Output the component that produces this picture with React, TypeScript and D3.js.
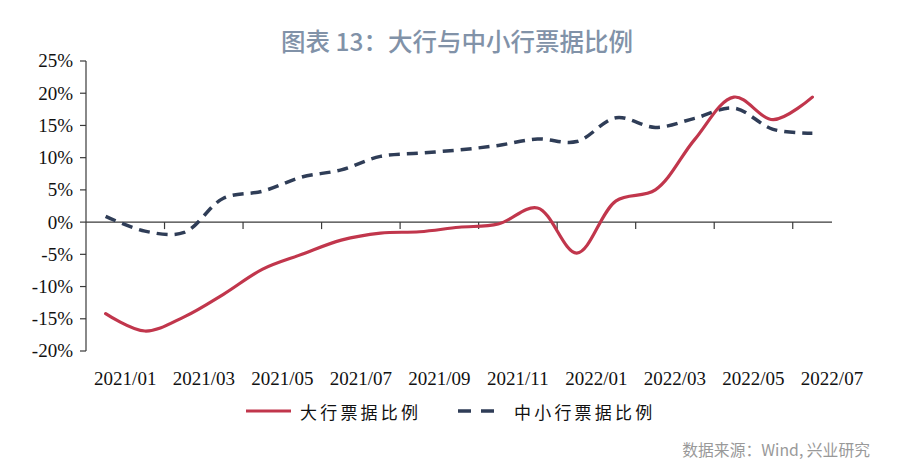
import React from "react";
import * as d3 from "d3";

const months = [
  "2021/01", "2021/02", "2021/03", "2021/04", "2021/05", "2021/06", "2021/07",
  "2021/08", "2021/09", "2021/10", "2021/11", "2021/12", "2022/01", "2022/02",
  "2022/03", "2022/04", "2022/05", "2022/06", "2022/07",
];
const bigBanks = [
  -14.2, -16.9, -14.7, -11.2, -7.3, -5.0, -2.8, -1.7, -1.5, -0.8, -0.3, 2.2,
  -4.8, 3.3, 5.0, 12.8, 19.4, 15.9, 19.4,
];
const smallBanks = [
  0.9, -1.4, -1.6, 3.7, 4.8, 7.0, 8.1, 10.2, 10.7, 11.2, 11.9, 12.9, 12.5,
  16.2, 14.7, 16.1, 17.7, 14.4, 13.8,
];
const yTicks = [25, 20, 15, 10, 5, 0, -5, -10, -15, -20];
const xLabels = ["2021/01", "2021/03", "2021/05", "2021/07", "2021/09", "2021/11", "2022/01", "2022/03", "2022/05", "2022/07"];
const seriesNames = ["大行票据比例", "中小行票据比例"];

const W = 900;
const H = 472;
const RED = "#C1364C";
const NAVY = "#2F3D57";
const AXIS = "#3a3a3a";

export default function App() {
  const x = d3.scaleLinear().domain([-0.5, months.length - 0.5]).range([86, 832]);
  const y = d3.scaleLinear().domain([-20, 25]).range([351, 61]);
  const line = d3
    .line<number>()
    .x((_, i) => x(i))
    .y((d) => y(d))
    .curve(d3.curveCatmullRom.alpha(0.5));

  const tickPositions = d3.range(1.5, months.length - 0.5, 2);
  const labelPositions = xLabels.map((_, k) => 0.5 + 2 * k);

  const serif = "'Liberation Serif', 'Times New Roman', serif";
  const cjk = "'Noto Sans CJK SC', 'Noto Sans', sans-serif";

  return (
    <svg
      width={W}
      height={H}
      style={{ position: "absolute", left: 0, top: 0, background: "#fff" }}
    >
      <rect x={0} y={0} width={W} height={H} fill="#fff" />
      <text
        x={457}
        y={40}
        textAnchor="middle"
        dominantBaseline="central"
        fontFamily={cjk}
        fontSize={24.5}
        fontWeight={500}
        fill="#8192a8"
      >
        图表 13：大行与中小行票据比例
      </text>

      {/* y axis */}
      <line x1={x(-0.5)} x2={x(-0.5)} y1={y(25)} y2={y(-20)} stroke={AXIS} strokeWidth={1.2} />
      {yTicks.map((t) => (
        <g key={t}>
          <line x1={x(-0.5) - 6} x2={x(-0.5)} y1={y(t)} y2={y(t)} stroke={AXIS} strokeWidth={1.2} />
          <text
            x={73}
            y={y(t)}
            dy="0.34em"
            textAnchor="end"
            fontFamily={serif}
            fontSize={19}
            fill="#111"
          >
            {t}%
          </text>
        </g>
      ))}

      {/* x axis at zero */}
      <line x1={x(-0.5)} x2={x(months.length - 0.5)} y1={y(0)} y2={y(0)} stroke={AXIS} strokeWidth={1.2} />
      {tickPositions.map((p) => (
        <line key={p} x1={x(p)} x2={x(p)} y1={y(0)} y2={y(0) + 7} stroke={AXIS} strokeWidth={1.2} />
      ))}
      {xLabels.map((l, k) => (
        <text
          key={l}
          x={x(labelPositions[k])}
          y={385}
          textAnchor="middle"
          fontFamily={serif}
          fontSize={19}
          fill="#111"
        >
          {l}
        </text>
      ))}

      {/* series */}
      <path d={line(smallBanks) || ""} fill="none" stroke={NAVY} strokeWidth={3.5} strokeDasharray="11 7" />
      <path d={line(bigBanks) || ""} fill="none" stroke={RED} strokeWidth={3.2} strokeLinejoin="round" strokeLinecap="round" />

      {/* legend */}
      <line x1={246} x2={291} y1={411} y2={411} stroke={RED} strokeWidth={3.2} />
      <text x={300} y={411} dominantBaseline="central" fontFamily={cjk} fontSize={17} letterSpacing={3.2} fill="#111">
        {seriesNames[0]}
      </text>
      <line x1={458} x2={494} y1={411} y2={411} stroke={NAVY} strokeWidth={3.5} strokeDasharray="13 10" />
      <text x={514} y={411} dominantBaseline="central" fontFamily={cjk} fontSize={17} letterSpacing={3.2} fill="#111">
        {seriesNames[1]}
      </text>

      <text x={870} y={449} textAnchor="end" dominantBaseline="central" fontFamily={cjk} fontSize={15.8} fill="#999">
        数据来源：Wind, 兴业研究
      </text>
    </svg>
  );
}
